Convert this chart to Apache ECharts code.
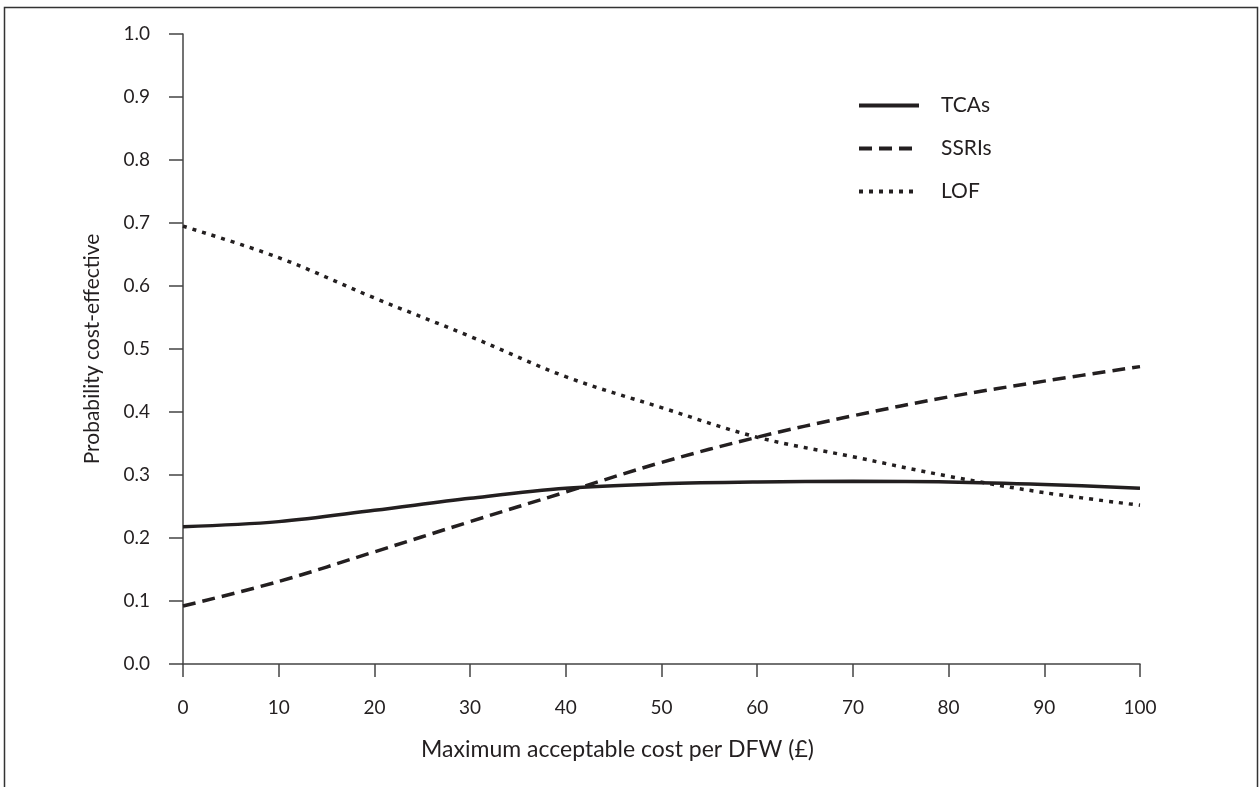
<!DOCTYPE html>
<html>
<head>
<meta charset="utf-8">
<script src="https://cdn.jsdelivr.net/npm/echarts@6/dist/echarts.min.js"></script>
<style>html,body{margin:0;padding:0;background:#fff;}#c{width:1259px;height:787px;}</style>
</head>
<body>
<div id="c"></div>
<script>
const xValues = [0, 10, 20, 30, 40, 50, 60, 70, 80, 90, 100];
const tcas  = [0.218, 0.226, 0.244, 0.263, 0.279, 0.286, 0.289, 0.290, 0.289, 0.285, 0.279];
const ssris = [0.092, 0.131, 0.178, 0.226, 0.273, 0.320, 0.360, 0.394, 0.424, 0.449, 0.472];
const lof   = [0.695, 0.645, 0.581, 0.520, 0.456, 0.407, 0.360, 0.329, 0.298, 0.272, 0.252];
const seriesNames = ['TCAs', 'SSRIs', 'LOF'];
const xTitle = 'Maximum acceptable cost per DFW (£)';
const yTitle = 'Probability cost-effective';

const pairs = arr => xValues.map((x, i) => [x, arr[i]]);
const FONT = 'Lato';
const ink = '#231f20';
const axisCol = '#444';

const chart = echarts.init(document.getElementById('c'), null, {renderer: 'canvas'});
const mk = (name, arr, type) => ({
  name, type: 'line', data: pairs(arr), smooth: 0.35, symbol: 'none',
  lineStyle: {color: ink, width: 3.5, type: type, cap: 'butt'},
  itemStyle: {color: ink}
});
chart.setOption({
  animation: false,
  textStyle: {fontFamily: FONT},
  graphic: [{type: 'rect', shape: {x: 4.5, y: 7.5, width: 1253, height: 790},
             style: {fill: 'none', stroke: '#333', lineWidth: 1.5}, silent: true}],
  grid: {left: 183, top: 34, right: 119, bottom: 123},
  legend: {
    orient: 'vertical', left: 852, top: 90, itemWidth: 60, itemHeight: 14, itemGap: 22,
    data: seriesNames,
    itemStyle: {opacity: 0},
    lineStyle: {width: 4},
    textStyle: {fontFamily: FONT, fontSize: 21, color: ink, padding: [0, 0, 0, 17]}
  },
  xAxis: {
    type: 'value', min: 0, max: 100, interval: 10,
    name: xTitle, nameLocation: 'middle', nameGap: 74,
    nameTextStyle: {fontFamily: FONT, fontSize: 23, color: ink, padding: [0, 88, 0, 0]},
    axisLine: {lineStyle: {color: axisCol, width: 1.5}},
    axisTick: {show: true, length: 13, lineStyle: {color: axisCol, width: 1.5}},
    axisLabel: {fontFamily: FONT, fontSize: 19, color: ink, margin: 34},
    splitLine: {show: false}
  },
  yAxis: {
    type: 'value', min: 0, max: 1, interval: 0.1,
    name: yTitle, nameLocation: 'middle', nameGap: 80,
    nameTextStyle: {fontFamily: FONT, fontSize: 21, color: ink},
    axisLine: {show: true, lineStyle: {color: axisCol, width: 1.5}},
    axisTick: {show: true, length: 14, lineStyle: {color: axisCol, width: 1.5}},
    axisLabel: {fontFamily: FONT, fontSize: 19, color: ink, margin: 33,
                formatter: v => v.toFixed(1)},
    splitLine: {show: false}
  },
  series: [
    mk('TCAs', tcas, 'solid'),
    mk('SSRIs', ssris, [13, 7]),
    mk('LOF', lof, [4, 6])
  ]
});
</script>
</body>
</html>
